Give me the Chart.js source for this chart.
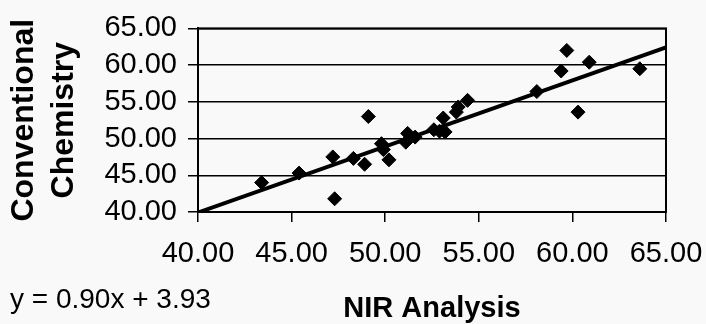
<!DOCTYPE html>
<html>
<head>
<meta charset="utf-8">
<script src="https://cdn.jsdelivr.net/npm/chart.js@4.4.1/dist/chart.umd.min.js"></script>
<style>
  html, body { margin: 0; padding: 0; background: #f9f9f9; }
  canvas { display: block; }
</style>
</head>
<body>
<canvas id="nir-chart" width="706" height="324"></canvas>
<script>
// NIR analysis (x) vs conventional chemistry (y)
const nirValues = [43.4, 45.4, 47.2, 47.3, 48.3, 48.9, 49.1, 49.8, 49.9, 50.2, 51.1, 51.2, 51.6, 52.6, 52.9, 53.2, 53.1, 53.8, 53.9, 54.4, 58.1, 59.4, 59.7, 60.3, 60.9, 63.6];
const chemValues = [44.0, 45.3, 47.5, 41.8, 47.3, 46.5, 53.0, 49.3, 48.5, 47.1, 49.5, 50.7, 50.2, 51.2, 51.0, 50.9, 52.8, 53.6, 54.3, 55.2, 56.4, 59.2, 62.0, 53.6, 60.4, 59.5];

// trend line end points (y = 0.90x + 3.93)
const trendX = [40, 65];
const trendY = [39.93, 62.43];

const axisTicks = [40, 45, 50, 55, 60, 65];
const equationLabel = 'y = 0.90x + 3.93';

const font = "'Liberation Sans', Arial, sans-serif";

const frame = {
  id: 'frame',
  afterDraw(chart) {
    const { ctx, chartArea: a } = chart;
    ctx.save();
    ctx.strokeStyle = '#000';
    ctx.lineWidth = 2;
    ctx.strokeRect(a.left, a.top, a.right - a.left, a.bottom - a.top);
    ctx.fillStyle = '#000';
    ctx.font = `28px ${font}`;
    ctx.textBaseline = 'alphabetic';
    ctx.fillText(equationLabel, 10, 308);
    ctx.restore();
  }
};

const points = nirValues.map((x, i) => ({ x, y: chemValues[i] }));
const trend = trendX.map((x, i) => ({ x, y: trendY[i] }));

new Chart(document.getElementById('nir-chart'), {
  type: 'scatter',
  data: {
    datasets: [
      {
        label: 'Samples',
        data: points,
        pointStyle: 'rectRot',
        pointRadius: 7,
        backgroundColor: '#000',
        borderColor: '#000',
        borderWidth: 1,
      },
      {
        label: 'Trend',
        data: trend,
        showLine: true,
        pointRadius: 0,
        borderColor: '#000',
        borderWidth: 4,
      }
    ]
  },
  options: {
    responsive: false,
    devicePixelRatio: 1,
    animation: false,
    layout: { padding: { left: 0, right: 0, top: 10, bottom: 0 } },
    plugins: {
      legend: { display: false },
      tooltip: { enabled: false },
    },
    scales: {
      x: {
        type: 'linear',
        min: 40,
        max: 65,
        afterBuildTicks: axis => { axis.ticks = axisTicks.map(v => ({ value: v })); },
        afterFit: axis => {
          axis.height = 112;
          axis.paddingLeft = 0;
          axis.paddingRight = 40;
        },
        ticks: {
          color: '#000',
          font: { family: font, size: 29 },
          padding: 15,
          maxRotation: 0,
          autoSkip: false,
          callback: v => v.toFixed(2),
        },
        grid: { drawOnChartArea: false, color: '#000', lineWidth: 1.5, tickLength: 10 },
        border: { color: '#000', width: 2 },
        title: {
          display: true,
          text: 'NIR Analysis',
          color: '#000',
          font: { family: font, size: 29, weight: 'bold' },
          padding: { top: 0, bottom: -2 },
        },
      },
      y: {
        type: 'linear',
        min: 40,
        max: 65,
        afterBuildTicks: axis => { axis.ticks = axisTicks.map(v => ({ value: v })); },
        afterFit: axis => { axis.width = 198; },
        ticks: {
          color: '#000',
          font: { family: font, size: 29 },
          padding: 11,
          autoSkip: false,
          callback: v => v.toFixed(2),
        },
        grid: { color: '#000', lineWidth: 1.5, tickLength: 10 },
        border: { color: '#000', width: 2 },
        title: {
          display: true,
          text: ['Conventional', 'Chemistry'],
          color: '#000',
          font: { family: font, size: 32, weight: 'bold', lineHeight: 1.25 },
          padding: { top: 4, bottom: 0 },
        },
      }
    }
  },
  plugins: [frame]
});
</script>
</body>
</html>
